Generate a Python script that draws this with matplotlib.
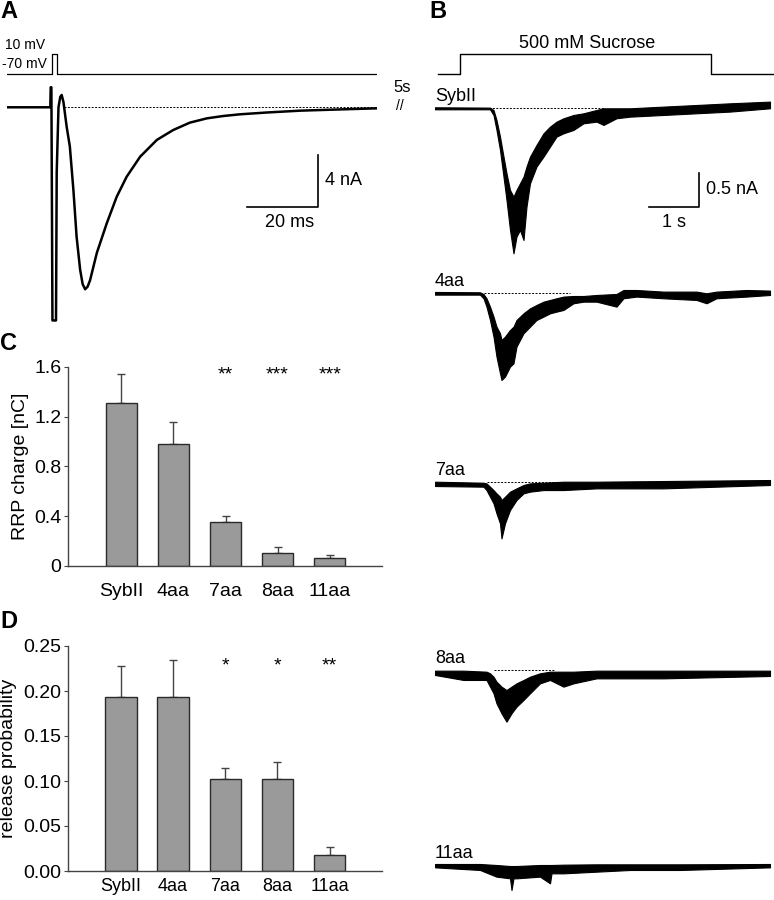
import numpy as np
import matplotlib.pyplot as plt

plt.rcParams['font.family'] = ['Liberation Sans', 'DejaVu Sans']

W, H = 774, 900
fig = plt.figure(figsize=(W / 100, H / 100), dpi=100)


def px_axes(x0, y0, x1, y1):
    ax = fig.add_axes([x0 / W, 1 - y1 / H, (x1 - x0) / W, (y1 - y0) / H])
    return ax


def bare(ax):
    ax.set_axis_off()
    return ax


# ---- panel A data: voltage command and EPSC (ms, mV, nA) ----
v_t = [0, 12.6, 12.6, 14.2, 14.2, 104.2]
v_mv = [-70, -70, 10, 10, -70, -70]

a_t = [0, 12.2, 12.3, 12.5, 12.8, 13.8, 14.0, 14.5, 15.0, 15.4, 15.9, 16.8, 17.7,
       18.7, 19.6, 20.6, 21.3, 22.0, 22.7, 23.4, 25.3, 28.1, 30.9, 33.7, 37.5,
       42.2, 46.8, 51.5, 56.3, 60.9, 65.6, 73.2, 82.5, 91.8, 104.0]
a_na = [0, 0, 1.54, 1.54, -16.4, -16.4, -5.0, 0.0, 0.8, 0.95, 0.4, -1.49, -3.02,
        -6.36, -9.96, -12.5, -13.6, -14.0, -13.8, -13.3, -11.2, -8.92, -6.88, -5.34,
        -3.80, -2.51, -1.75, -1.18, -0.85, -0.67, -0.54, -0.40, -0.26, -0.18, -0.08]

# ---- panel B data: sucrose responses, envelope of trace (s, nA) ----
suc_t = [0.06, 0.5, 0.5, 5.51, 5.51, 6.78]
suc_on = [0, 0, 1, 1, 0, 0]

syb_t = [0, 1.10, 1.17, 1.23, 1.30, 1.37, 1.43, 1.50, 1.57, 1.63, 1.70, 1.77, 1.83,
         1.90, 2.03, 2.17, 2.30, 2.43, 2.57, 2.77, 2.97, 3.23, 3.37, 3.63, 3.90,
         4.57, 5.23, 5.90, 6.70]
syb_hi = [0.015, 0.01, -0.025, -0.173, -0.420, -0.717, -0.964, -1.212, -1.311,
          -1.212, -1.113, -1.014, -0.865, -0.717, -0.544, -0.371, -0.272, -0.198,
          -0.148, -0.099, -0.074, -0.025, 0, 0, 0, 0.025, 0.049, 0.074, 0.099]
syb_lo = [-0.015, -0.015, -0.099, -0.321, -0.618, -1.014, -1.360, -1.805, -2.151,
          -1.904, -1.805, -1.954, -1.459, -1.113, -0.865, -0.717, -0.569, -0.420,
          -0.371, -0.321, -0.223, -0.198, -0.247, -0.148, -0.124, -0.099, -0.074,
          -0.049, 0]

aa4_t = [0, 0.90, 0.97, 1.03, 1.10, 1.17, 1.23, 1.30, 1.33, 1.40, 1.50, 1.57, 1.63,
         1.77, 1.90, 2.03, 2.17, 2.30, 2.43, 2.57, 2.77, 2.97, 3.23, 3.63, 3.77,
         4.03, 4.57, 5.23, 5.43, 5.63, 6.23, 6.70]
aa4_hi = [0.020, 0.015, -0.010, -0.074, -0.198, -0.346, -0.495, -0.593, -0.692,
          -0.643, -0.544, -0.495, -0.396, -0.297, -0.223, -0.173, -0.124, -0.099,
          -0.074, -0.049, -0.040, -0.040, -0.025, -0.010, 0.049, 0.049, 0.025,
          0.025, 0, 0.025, 0.049, 0.040]
aa4_lo = [-0.020, -0.020, -0.074, -0.198, -0.396, -0.643, -0.940, -1.187, -1.286,
          -1.236, -1.088, -1.039, -0.791, -0.593, -0.495, -0.396, -0.346, -0.297,
          -0.272, -0.247, -0.148, -0.124, -0.124, -0.198, -0.074, -0.049, -0.074,
          -0.099, -0.148, -0.074, -0.049, -0.025]

aa7_t = [0, 0.97, 1.03, 1.10, 1.17, 1.23, 1.30, 1.33, 1.40, 1.50, 1.63, 1.77, 1.90,
         2.17, 2.57, 3.23, 4.57, 6.70]
aa7_hi = [0, -0.015, -0.025, -0.074, -0.124, -0.173, -0.223, -0.272, -0.223,
          -0.148, -0.099, -0.049, -0.025, -0.015, 0, 0, 0.010, 0.025]
aa7_lo = [-0.064, -0.074, -0.124, -0.223, -0.321, -0.470, -0.618, -0.841, -0.618,
          -0.420, -0.272, -0.173, -0.148, -0.124, -0.124, -0.099, -0.099, -0.049]

aa8_t = [0, 0.57, 1.03, 1.10, 1.17, 1.23, 1.33, 1.43, 1.53, 1.63, 1.77, 1.90, 2.10,
         2.30, 2.57, 2.77, 3.23, 4.57, 6.70]
aa8_hi = [-0.010, -0.010, -0.025, -0.049, -0.099, -0.173, -0.247, -0.297, -0.247,
          -0.198, -0.148, -0.099, -0.049, -0.025, -0.025, -0.025, -0.010, -0.010,
          -0.010]
aa8_lo = [-0.074, -0.148, -0.148, -0.247, -0.346, -0.495, -0.643, -0.767, -0.643,
          -0.544, -0.445, -0.346, -0.198, -0.148, -0.247, -0.198, -0.124, -0.124,
          -0.089]

aa11_t = [0, 0.90, 1.23, 1.50, 1.53, 1.57, 1.63, 2.10, 2.30, 2.33, 2.57, 3.23, 3.90,
          4.90, 6.70]
aa11_hi = [0.015, 0.015, 0, -0.015, -0.015, -0.015, -0.015, 0, 0, 0, 0.005, 0.010,
           0.010, 0.010, 0.015]
aa11_lo = [-0.035, -0.074, -0.173, -0.198, -0.371, -0.198, -0.198, -0.173, -0.272,
           -0.124, -0.124, -0.099, -0.074, -0.074, -0.035]

trace_names = ['SybII', '4aa', '7aa', '8aa', '11aa']
trace_t = [syb_t, aa4_t, aa7_t, aa8_t, aa11_t]
trace_hi = [syb_hi, aa4_hi, aa7_hi, aa8_hi, aa11_hi]
trace_lo = [syb_lo, aa4_lo, aa7_lo, aa8_lo, aa11_lo]
dash_from = [1.07, 0.97, 1.03, 1.17, None]
dash_to = [3.37, 2.70, 2.43, 2.37, None]

# ---- panels C, D: bar data ----
groups = ['SybII', '4aa', '7aa', '8aa', '11aa']
rrp = [1.31, 0.977, 0.350, 0.107, 0.067]
rrp_err = [0.235, 0.177, 0.051, 0.043, 0.021]
rrp_sig = ['', '', '**', '***', '***']
prob = [0.193, 0.193, 0.102, 0.102, 0.018]
prob_err = [0.035, 0.041, 0.013, 0.019, 0.009]
prob_sig = ['', '', '*', '*', '**']

# ================= panel A =================
axv = bare(px_axes(7, 40, 377, 80))
axv.plot(v_t, v_mv, color='black', lw=0.9)
axv.set_xlim(0, 104.2)
axv.set_ylim(-94, 66)

axa = bare(px_axes(7, 80, 377, 325))
axa.plot(a_t, a_na, color='black', lw=1.8, solid_joinstyle='round')
axa.plot([16, 104], [0, 0], color='black', lw=0.7, ls=(0, (2, 1.5)))
axa.set_xlim(0, 104.2)
axa.set_ylim(-16.75, 2.1)
# scale bar 20 ms / 4 nA
sb_t, sb_i = 87.6, -7.67
axa.plot([sb_t - 20, sb_t, sb_t], [sb_i, sb_i, sb_i + 4], color='black', lw=1.2)
axa.text(sb_t + 2, sb_i + 2, '4 nA', fontsize=13, va='center', ha='left')
axa.text(sb_t - 8, sb_i - 1.2, '20 ms', fontsize=13, va='center', ha='center')

fig.text(5 / W, 1 - 45 / H, '10 mV', fontsize=10, va='center', ha='left')
fig.text(2 / W, 1 - 64 / H, '-70 mV', fontsize=10, va='center', ha='left')
fig.text(393 / W, 1 - 88 / H, '5s', fontsize=12, va='center', ha='left')
fig.text(396 / W, 1 - 106 / H, '//', fontsize=10, va='center', ha='left')

# ================= panel B =================
axs = bare(px_axes(435, 30, 774, 80))
axs.plot(suc_t, suc_on, color='black', lw=1.0)
axs.set_xlim(0, 6.78)
axs.set_ylim(-0.3, 2.2)
axs.text(3.05, 1.55, '500 mM Sucrose', fontsize=13, ha='center', va='center')

baselines = [108.3, 293.3, 481.7, 670.0, 865.0]
px_per_na = 67.4
for k, name in enumerate(trace_names):
    y0 = baselines[k]
    ax = bare(px_axes(435, y0 - 20, 774, y0 + 160))
    ax.set_xlim(0, 6.78)
    ax.set_ylim(-160 / px_per_na, 20 / px_per_na)
    ax.fill_between(trace_t[k], trace_lo[k], trace_hi[k], color='black', lw=0.8,
                    edgecolor='black')
    if dash_from[k] is not None:
        ax.plot([dash_from[k], dash_to[k]], [0, 0], color='black', lw=0.7,
                ls=(0, (2, 1.5)))
    ax.text(0.0, 0.17, name, fontsize=13, ha='left', va='center')
    if k == 0:
        bt, bi = 5.27, -1.46
        ax.plot([bt - 1, bt, bt], [bi, bi, bi + 0.5], color='black', lw=1.2)
        ax.text(bt + 0.14, bi + 0.25, '0.5 nA', fontsize=13, va='center', ha='left')
        ax.text(bt - 0.5, bi - 0.24, '1 s', fontsize=13, va='center', ha='center')


# ================= panels C, D =================
def bar_panel(ax, vals, errs, sig, ymax, ticks, ticklabels, ylabel, star_y, xpad, xsize):
    x = np.arange(len(groups))
    ax.bar(x, vals, width=0.6, color='#9a9a9a', edgecolor='#2a2a2a', lw=1.0, zorder=2)
    ax.errorbar(x, vals, yerr=[np.zeros(len(vals)), errs], fmt='none',
                ecolor='#444444', elinewidth=1.0, capsize=3, capthick=1.0, zorder=1)
    for i, s in enumerate(sig):
        if s:
            ax.text(i, star_y, s, fontsize=14, ha='center', va='center')
    ax.set_xlim(-1.02, 5.0)
    ax.set_ylim(0, ymax)
    ax.set_yticks(ticks)
    ax.set_yticklabels(ticklabels)
    ax.set_xticks(x)
    ax.set_xticklabels(groups)
    ax.tick_params(axis='x', length=0, labelsize=xsize, pad=xpad)
    ax.tick_params(axis='y', length=3, width=0.8, labelsize=14, pad=2, color='#444444')
    for side in ['top', 'right']:
        ax.spines[side].set_visible(False)
    for side in ['left', 'bottom']:
        ax.spines[side].set_color('#444444')
        ax.spines[side].set_linewidth(1.0)
    ax.set_ylabel(ylabel, fontsize=14, labelpad=4)


axc = px_axes(68.3, 366.7, 381.7, 566)
bar_panel(axc, rrp, rrp_err, rrp_sig, 1.6, [0, 0.4, 0.8, 1.2, 1.6],
          ['0', '0.4', '0.8', '1.2', '1.6'], 'RRP charge [nC]', 1.535, 12, 14)

axd = px_axes(67.7, 646, 381.7, 871)
bar_panel(axd, prob, prob_err, prob_sig, 0.25, [0, 0.05, 0.10, 0.15, 0.20, 0.25],
          ['0.00', '0.05', '0.10', '0.15', '0.20', '0.25'], 'release probability', 0.228,
          5, 13)

# panel letters
for lab, xp, yp in [('A', 0, 12), ('B', 429, 12), ('C', 0, 343), ('D', 0, 621)]:
    fig.text(xp / W, 1 - yp / H, lab, fontsize=17, fontweight='bold', va='center',
             ha='left')

fig.savefig('out.png', dpi=100)
